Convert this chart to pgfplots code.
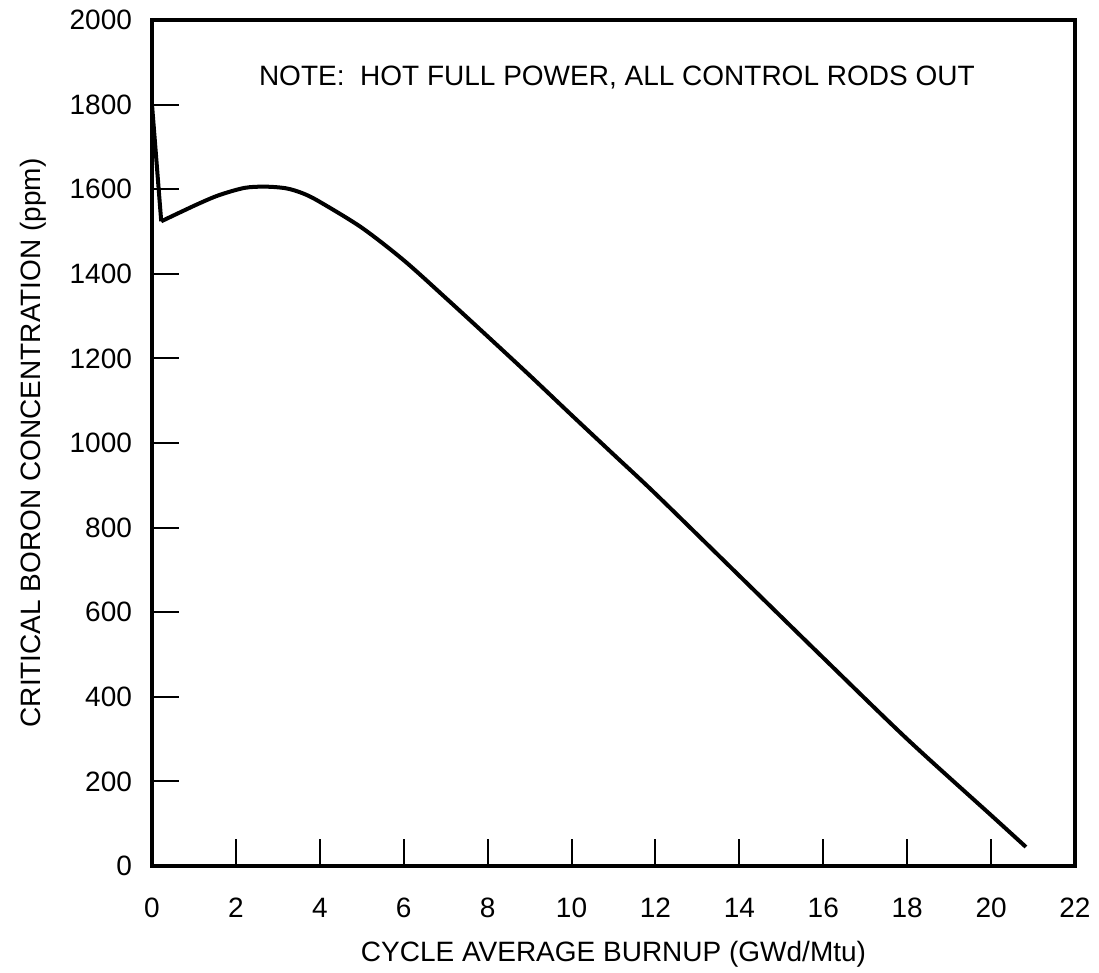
\documentclass[border=0pt]{standalone}
\usepackage{fontspec}
\setmainfont{Liberation Sans}
\usepackage{pgfplots}
\pgfplotsset{compat=1.18}
\begin{document}
\begin{tikzpicture}[x=1pt,y=1pt]
\useasboundingbox (-76pt,-53.5pt) rectangle (473.5pt,433pt);
\begin{axis}[
  at={(0pt,0pt)}, anchor=south west,
  scale only axis,
  width=461.5pt, height=423pt,
  xmin=0, xmax=22, ymin=0, ymax=2000,
  xtick={0,2,...,22}, ytick={0,200,...,2000},
  tick pos=left, tick align=inside,
  major tick length=13.5pt,
  every tick/.style={black, line width=1pt},
  axis line style={line width=2pt},
  /pgf/number format/assume math mode=true,
  /pgf/number format/1000 sep={},
  tick label style={font=\fontsize{14}{16}\selectfont},
  xticklabel style={yshift=-12.5pt},
  yticklabel style={xshift=-6.5pt},
  xlabel={CYCLE AVERAGE BURNUP (GWd/Mtu)},
  ylabel={CRITICAL BORON CONCENTRATION (ppm)},
  label style={font=\fontsize{14}{16}\selectfont},
  xlabel style={yshift=-5pt},
  ylabel style={yshift=5pt},
]
\addplot[black, line width=2pt, line join=round] coordinates {
(0,1800) (0.22,1524)
};
\addplot[black, line width=2pt, line join=round, smooth, tension=0.5] coordinates {
(0.22,1524) (0.6,1542) (1.14,1567) (1.6,1586) (2.2,1603) (2.7,1606) (3.2,1602)
(3.6,1590) (4.0,1570) (5.0,1509) (6.0,1432) (7.0,1343) (8.0,1252)
(9.0,1160) (10,1066) (11,973) (12,880) (14,686) (16,492)
(18,300) (20,120) (20.83,45)
};
\node[font=\fontsize{14}{16}\selectfont] at (axis cs:11.08,1863) {NOTE:\ \ HOT FULL POWER, ALL CONTROL RODS OUT};
\end{axis}
\end{tikzpicture}
\end{document}
